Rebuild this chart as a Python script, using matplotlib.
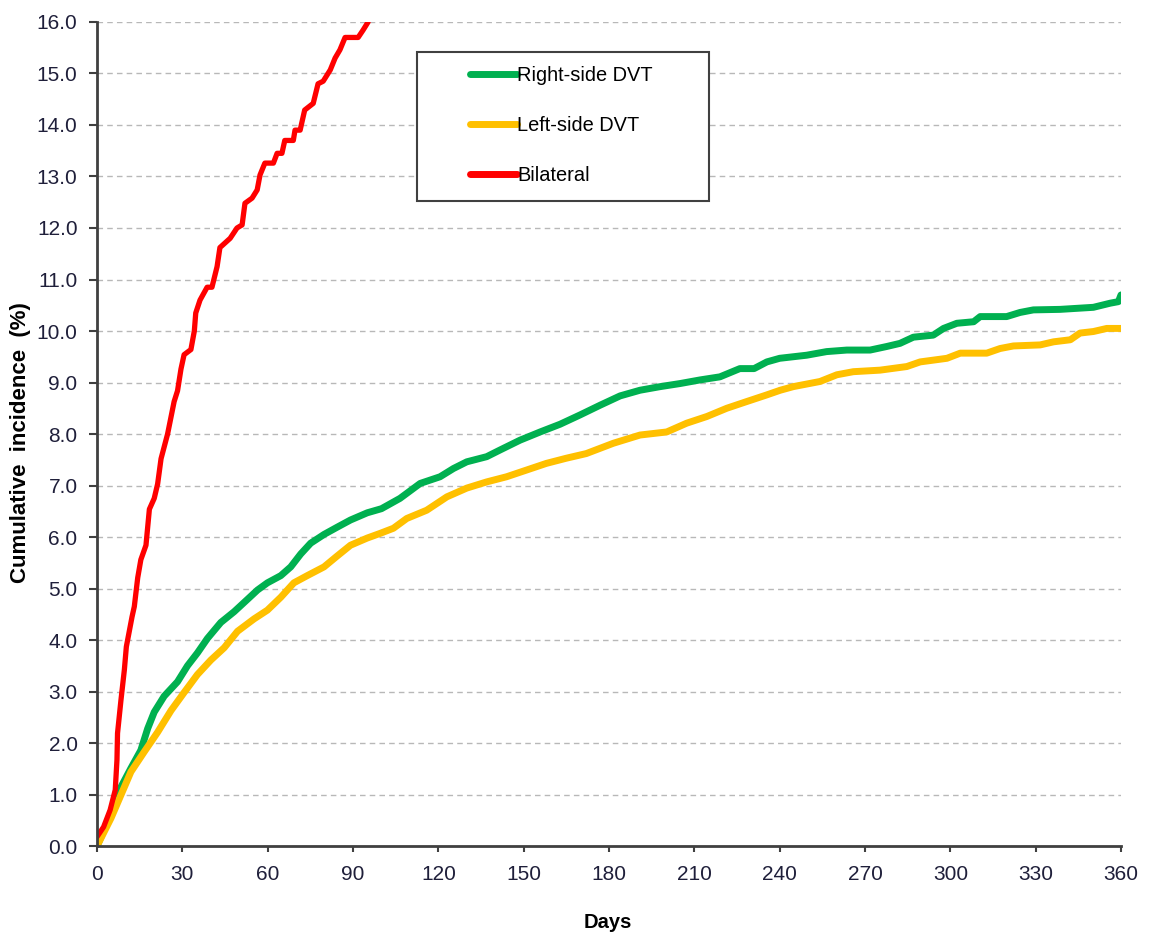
#!/usr/bin/env python3
# -*- coding: utf-8 -*-

#%% packages
import numpy as np
import matplotlib as mpl
mpl.use('Agg')
import matplotlib.pyplot as plt
from matplotlib.patches import Rectangle

mpl.rc('font', family=['Liberation Sans', 'DejaVu Sans'])
mpl.rc('font', size=15)

#%% data
days_right = [0, 3.7, 7.3, 11.9, 15.4, 17.8, 20.1, 23.6, 28.3, 31.8, 35.3, 38.8,
              43.5, 48.2, 52.9, 56.4, 59.9, 64.6, 68.1, 71.6, 75.1, 79.8, 84.4,
              89.1, 95, 100, 106.5, 113.6, 120.6, 125.3, 130, 137, 141.7, 148.7,
              155.8, 162.8, 169.8, 176.9, 183.9, 190.9, 198, 205, 212, 219, 226,
              231, 235.5, 240, 249.5, 256.5, 263.6, 271.8, 277.7, 282.3, 287,
              294, 297.6, 302.3, 308.2, 310.5, 319.8, 324.5, 329.2, 338.6, 350.3,
              356.2, 359.1, 360]
inc_right = [0.0, 0.47, 1.03, 1.51, 1.86, 2.28, 2.6, 2.91, 3.19, 3.5, 3.75, 4.03,
             4.34, 4.55, 4.79, 4.97, 5.11, 5.25, 5.42, 5.67, 5.88, 6.05, 6.19,
             6.33, 6.47, 6.55, 6.75, 7.04, 7.17, 7.33, 7.46, 7.56, 7.69, 7.88,
             8.04, 8.19, 8.37, 8.56, 8.74, 8.85, 8.92, 8.98, 9.05, 9.11, 9.27,
             9.27, 9.4, 9.47, 9.53, 9.6, 9.63, 9.63, 9.7, 9.76, 9.88,
             9.92, 10.05, 10.15, 10.18, 10.28, 10.28, 10.36, 10.41, 10.42, 10.46,
             10.54, 10.57, 10.7]

days_left = [0, 4.9, 8.4, 11.9, 16.6, 21.3, 26, 30.6, 35.3, 40, 44.7, 49.4, 55.2,
             59.9, 64.6, 69.2, 73.9, 79.8, 84.4, 89.1, 95, 99.5, 104.2, 108.9,
             115.9, 123, 130, 137, 144, 151, 158, 165, 172, 181.5, 190.9, 200.3,
             207.3, 214.4, 221.4, 228.4, 235.5, 240.2, 244.8, 254.2, 260.1, 265.9,
             275.3, 284.7, 289.4, 298.8, 303.5, 312.8, 317.5, 322.2, 331.6, 336.3,
             342.2, 345.6, 350.3, 355, 360]
inc_left = [0.0, 0.54, 0.99, 1.44, 1.83, 2.21, 2.63, 2.98, 3.33, 3.61, 3.85, 4.17,
            4.41, 4.58, 4.83, 5.11, 5.25, 5.42, 5.63, 5.84, 5.98, 6.07, 6.17, 6.36,
            6.52, 6.78, 6.95, 7.07, 7.17, 7.3, 7.43, 7.53, 7.62, 7.82, 7.98, 8.04,
            8.21, 8.34, 8.5, 8.63, 8.76, 8.85, 8.92, 9.02, 9.15, 9.21,
            9.24, 9.31, 9.4, 9.47, 9.57, 9.57, 9.66, 9.71, 9.73, 9.79,
            9.83, 9.96, 9.99, 10.05, 10.05]

days_bilat = [0, 2.3, 4.6, 6.4, 7, 7.2, 8.4, 9.6, 10.3, 12.3, 13.1, 14.3, 15.4,
              17.2, 18.4, 20.1, 21.3, 22.5, 24.8, 27.1, 28.3, 29.5, 30.6, 33,
              34.2, 34.7, 36.2, 38.7, 40.4, 42.2, 43.2, 46.8, 49.2, 51, 52, 54.5,
              56.3, 57.3, 59, 62, 63.3, 65, 66, 69, 69.6, 71.4, 73, 76, 77.7, 79.5,
              82, 83.7, 85.4, 87.2, 91.8, 93.5, 95.3]
inc_bilat = [0.18, 0.37, 0.7, 1.09, 1.67, 2.19, 2.83, 3.42, 3.87, 4.45, 4.65, 5.21,
             5.56, 5.84, 6.54, 6.75, 7.03, 7.52, 8.0, 8.63, 8.84, 9.26, 9.54, 9.64,
             10.0, 10.35, 10.6, 10.85, 10.85, 11.25, 11.62, 11.8, 12.0, 12.06,
             12.48, 12.58, 12.74, 13.03, 13.26, 13.26, 13.45, 13.45, 13.7, 13.7,
             13.9, 13.9, 14.29, 14.42, 14.8, 14.85, 15.07, 15.3, 15.46, 15.7, 15.7,
             15.84, 16.0]

labels = ['Right-side DVT', 'Left-side DVT', 'Bilateral']
xticks = np.arange(0, 361, 30)
yticks = np.arange(0, 16.01, 1.0)

#%% plot
fig = plt.figure(figsize=(11.54, 9.44), dpi=100)
ax = fig.add_axes([0.0841, 0.1038, 0.8873, 0.8729])

ax.plot(days_right, inc_right, color='#00B050', lw=5, label=labels[0],
        solid_capstyle='round', solid_joinstyle='round')
ax.plot(days_left, inc_left, color='#FFC000', lw=5, label=labels[1],
        solid_capstyle='round', solid_joinstyle='round')
ax.plot(days_bilat, inc_bilat, color='#FF0000', lw=3.8, label=labels[2],
        solid_capstyle='round', solid_joinstyle='round')

ax.set_xlim(0, 360)
ax.set_ylim(0, 16)
ax.set_xticks(xticks)
ax.set_yticks(yticks)
ax.set_yticklabels(['%.1f' % v for v in yticks])
ax.tick_params(direction='out', width=1.5, color='#404040',
               labelcolor='#1f1f3a', labelsize=15)
ax.tick_params(axis='y', length=6, pad=8)
ax.tick_params(axis='x', length=4.5, pad=9)

for side in ['top', 'right']:
  ax.spines[side].set_visible(False)
for side in ['left', 'bottom']:
  ax.spines[side].set_color('#404040')
  ax.spines[side].set_linewidth(2)

ax.yaxis.grid(True, linestyle=(0, (4, 3)), linewidth=1, color='#b8b8b8')
ax.set_axisbelow(True)

ax.set_xlabel('Days', fontweight='bold', fontsize=14.5)
ax.xaxis.set_label_coords(0.499, -0.081)
ax.set_ylabel('Cumulative  incidence  (%)', fontweight='bold', fontsize=16)
ax.yaxis.set_label_coords(-0.0645, 0.49)

# legend box drawn by hand so it can be wider than it is padded vertically
box = Rectangle((0.3125, 0.7833), 0.2852, 0.1803, transform=ax.transAxes,
                facecolor='white', edgecolor='#404040', lw=1.5, zorder=5)
ax.add_patch(box)
leg = ax.legend(loc='upper left', bbox_to_anchor=(0.3643, 0.946), frameon=False,
                fontsize=14.4, handlelength=2.36, handletextpad=0.0,
                labelspacing=1.55, borderpad=0.0, borderaxespad=0.0)
leg.set_zorder(6)
for line in leg.get_lines():
  line.set_linewidth(5)

fig.savefig('out.png', dpi=100)
